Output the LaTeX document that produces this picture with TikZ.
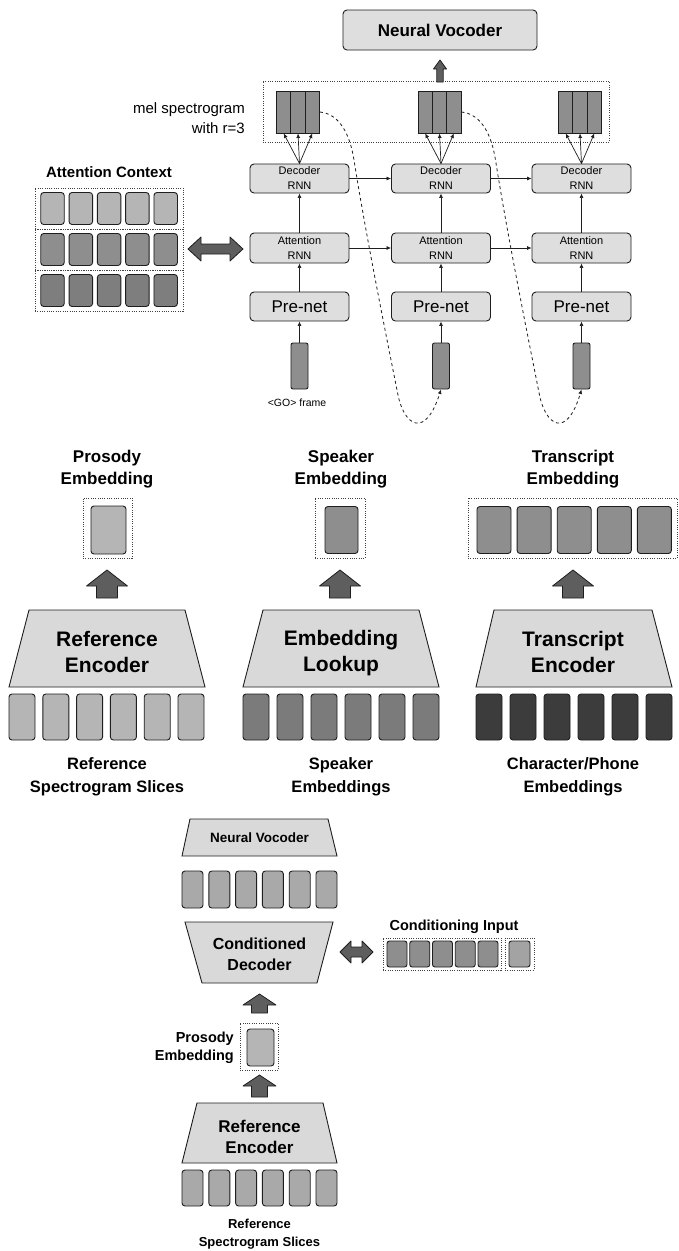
\documentclass[tikz,border=0pt]{standalone}
\usepackage{fontspec}
\setmainfont{Liberation Sans}
\usetikzlibrary{arrows.meta,calc}
\definecolor{boxfill}{HTML}{DEDEDE}
\definecolor{trapfill}{HTML}{D9D9D9}
\definecolor{cellA}{HTML}{B5B5B5}
\definecolor{cellB}{HTML}{8E8E8E}
\definecolor{cellC}{HTML}{7E7E7E}
\definecolor{cellS}{HTML}{7B7B7B}
\definecolor{cellD}{HTML}{3C3C3C}
\definecolor{cellE}{HTML}{A9A9A9}
\definecolor{arrfill}{HTML}{5E5E5E}
\definecolor{edge}{HTML}{1E1E1E}
\newcommand{\upblock}[6]{% x, ybottom, ytop, half width, half shaft, head length
  \filldraw[barrow] (#1-#5,#2) -- (#1-#5,#3+#6) -- (#1-#4,#3+#6) -- (#1,#3) -- (#1+#4,#3+#6) -- (#1+#5,#3+#6) -- (#1+#5,#2) -- cycle;}
\newcommand{\lrblock}[6]{% xleft, xright, y, half width, half shaft, head length
  \filldraw[barrow] (#1,#3) -- (#1+#6,#3-#4) -- (#1+#6,#3-#5) -- (#2-#6,#3-#5) -- (#2-#6,#3-#4) -- (#2,#3) -- (#2-#6,#3+#4) -- (#2-#6,#3+#5) -- (#1+#6,#3+#5) -- (#1+#6,#3+#4) -- cycle;}
\tikzset{
  rbox/.style={draw=edge, fill=boxfill, rounded corners=4, line width=0.9, inner sep=0, align=center},
  cellbox/.style={draw=edge, rounded corners=3, line width=0.9, inner sep=0},
  dotbox/.style={draw=black!75, line width=0.9, dash pattern=on 0.9pt off 1.4pt, inner sep=0},
  arr/.style={-{Latex[length=4.5pt,width=4pt]}, line width=0.7, draw=edge},
  trap/.style={draw=edge, fill=trapfill, line width=0.9},
  barrow/.style={draw=edge, fill=arrfill, line width=0.8, line join=round},
  dcurve/.style={dashed, line width=0.8, -{Latex[length=4.5pt,width=4pt]}, draw=edge},
  lbl/.style={align=center, inner sep=0},
  fs/.style 2 args={font=\fontsize{#1}{#2}\selectfont},
  fb/.style 2 args={font=\fontsize{#1}{#2}\selectfont\bfseries}
}
\begin{document}
\begin{tikzpicture}[x=1pt,y=-1pt]
\useasboundingbox[fill=white] (0,0) rectangle (678,1251);

% ---------------- top: decoder ----------------
\node[rbox, fb={17}{20}, minimum width=194, minimum height=40] (voc) at (440,30) {Neural Vocoder};
\node[dotbox, minimum width=346, minimum height=61] (melbox) at (436,111.5) {};
\upblock{440}{82}{60}{6.5}{3.2}{9}
\node[lbl, fs={15}{20}, anchor=east, align=right] (mellbl) at (245,118) {mel spectrogram\\with r=3};

\foreach \i/\cx in {1/299.5, 2/441, 3/581.5} {
  \foreach \j in {1,2,3} {
    \node[draw=edge, fill=cellB, line width=0.9, inner sep=0, minimum width=14.3, minimum height=42] (mel\i\j) at (\cx-1.5+\j*14.3-28.6,112) {};
  }
  \node[rbox, fs={11}{15}, minimum width=99, minimum height=29] (dec\i) at (\cx,178.5) {Decoder\\RNN};
  \node[rbox, fs={11}{15}, minimum width=99, minimum height=30] (att\i) at (\cx,248) {Attention\\RNN};
  \node[rbox, fs={17}{20}, minimum width=99, minimum height=29] (pre\i) at (\cx,306.5) {Pre-net};
  \node[cellbox, rounded corners=2, fill=cellB, minimum width=17, minimum height=46] (col\i) at (\cx,366) {};
  \foreach \j in {1,2,3} { \draw[arr] (dec\i.north) -- (mel\i\j.south); }
  \draw[arr] (att\i.north) -- (dec\i.south);
  \draw[arr] (pre\i.north) -- (att\i.south);
  \draw[arr] (col\i.north) -- (pre\i.south);
}
\draw[arr] (dec1.east) -- (dec2.west);
\draw[arr] (dec2.east) -- (dec3.west);
\draw[arr] (att1.east) -- (att2.west);
\draw[arr] (att2.east) -- (att3.west);
\node[lbl, fs={10.5}{12}] (go) at (297,403) {<GO> frame};

\draw[dcurve] (mel13.east) .. controls (340,114) and (350,135) .. (354,160) .. controls (365,230) and (385,330) .. (398,395) .. controls (404,425) and (425,440) .. (col2.south);
\begin{scope}[xshift=141.5pt]
\draw[dcurve] (mel23.east) .. controls (340,114) and (350,135) .. (354,160) .. controls (365,230) and (385,330) .. (398,395) .. controls (404,425) and (425,440) .. (col3.south);
\end{scope}

% attention context
\node[lbl, fb={15}{18}] (actitle) at (109,172) {Attention Context};
\foreach \r/\c in {1/cellA, 2/cellB, 3/cellC} {
  \node[dotbox, minimum width=148, minimum height=41] (acrow\r) at (109,167.5+\r*41) {};
  \foreach \k in {0,...,4} {
    \node[cellbox, fill=\c, minimum width=23.5, minimum height=32] (ac\r\k) at (52.5+\k*28.3,167.5+\r*41) {};
  }
}
\lrblock{188}{243}{249}{12}{5}{13}

% ---------------- middle ----------------
\node[lbl, fb={17}{22}] (prolbl) at (107,469) {Prosody\\Embedding};
\node[lbl, fb={17}{22}] (spklbl) at (341,469) {Speaker\\Embedding};
\node[lbl, fb={17}{22}] (trnlbl) at (573,469) {Transcript\\Embedding};

\node[dotbox, minimum width=49, minimum height=60] (pdot) at (107.5,528) {};
\node[cellbox, fill=cellA, minimum width=35, minimum height=48] (pemb) at (108.5,530) {};
\node[dotbox, minimum width=50, minimum height=60] (sdot) at (340,528) {};
\node[cellbox, fill=cellB, minimum width=33, minimum height=47] (semb) at (341.5,530) {};
\node[dotbox, minimum width=209, minimum height=60] (tdot) at (572.5,528) {};
\foreach \k in {0,...,4} {
  \node[cellbox, fill=cellB, minimum width=34, minimum height=47] (temb\k) at (494+\k*40.1,530) {};
}
\upblock{107}{598}{570}{20.5}{10.5}{16}
\upblock{340}{598}{570}{20.5}{10.5}{16}
\upblock{573}{598}{570}{20.5}{10.5}{16}

\draw[trap] (9,687) -- (29,610) -- (185,610) -- (205,687) -- cycle;
\draw[trap] (243,687) -- (263,610) -- (419,610) -- (439,687) -- cycle;
\draw[trap] (476,687) -- (494,610) -- (652,610) -- (672,687) -- cycle;
\node[lbl, fb={21}{26}] (refenc) at (107,652) {Reference\\Encoder};
\node[lbl, fb={21}{26}] (emblook) at (341,653.5) {Embedding\\Lookup};
\node[lbl, fb={21}{26}] (trnenc) at (573,652) {Transcript\\Encoder};

\foreach \k in {0,...,5} {
  \node[cellbox, fill=cellA, minimum width=26, minimum height=46] (rs\k) at (22+\k*33.8,717) {};
  \node[cellbox, fill=cellS, minimum width=26, minimum height=46] (se\k) at (256+\k*34,717) {};
  \node[cellbox, fill=cellD, minimum width=26, minimum height=46] (ce\k) at (489+\k*34,717) {};
}
\node[lbl, fb={16.5}{23}] (rslbl) at (107,776.5) {Reference\\Spectrogram Slices};
\node[lbl, fb={16.5}{23}] (selbl) at (341,776.5) {Speaker\\Embeddings};
\node[lbl, fb={16.5}{23}] (celbl) at (573,776.5) {Character/Phone\\Embeddings};

% ---------------- bottom ----------------
\draw[trap] (182,856) -- (190,819) -- (328,819) -- (337,856) -- cycle;
\node[lbl, fb={13.5}{16}] (nv2) at (259.5,838) {Neural Vocoder};
\foreach \k in {0,...,5} {
  \node[cellbox, fill=cellE, minimum width=21, minimum height=37] (oc\k) at (192.5+\k*26.8,889.5) {};
  \node[cellbox, fill=cellE, minimum width=21, minimum height=36] (bc\k) at (192.5+\k*26.8,1188) {};
}
\draw[trap] (185,922) -- (333,922) -- (317,983) -- (202,983) -- cycle;
\node[lbl, fb={16}{21}] (cdec) at (259.5,954) {Conditioned\\Decoder};
\lrblock{340}{373}{952}{11}{5}{11}
\node[lbl, fb={14.5}{17}] (cilbl) at (454,927) {Conditioning Input};
\node[dotbox, minimum width=118, minimum height=32] (ci1) at (442,954) {};
\foreach \k in {0,...,4} {
  \node[cellbox, rounded corners=2.5, fill=cellB, minimum width=20, minimum height=26] (cic\k) at (397+\k*22.75,954) {};
}
\node[dotbox, minimum width=29, minimum height=32] (ci2) at (519.5,954) {};
\node[cellbox, rounded corners=2.5, fill=cellA!90!black, minimum width=21, minimum height=26] (cis) at (519.5,954) {};

\upblock{259.5}{1013}{994}{16.5}{8}{11}
\node[dotbox, minimum width=38, minimum height=47] (pdot2) at (259,1046.5) {};
\node[cellbox, fill=cellA, minimum width=27, minimum height=37] (pemb2) at (260.5,1047.5) {};
\node[lbl, fb={14.5}{18}, anchor=east, align=right] (prolbl2) at (234,1048) {Prosody\\Embedding};
\upblock{259.5}{1097}{1075}{16.5}{8}{11}

\draw[trap] (182,1163) -- (197,1103) -- (323,1103) -- (337,1163) -- cycle;
\node[lbl, fb={17}{21}] (refenc2) at (259.5,1136.5) {Reference\\Encoder};
\node[lbl, fb={13}{18}] (rslbl2) at (259.5,1234) {Reference\\Spectrogram Slices};
\end{tikzpicture}
\end{document}
